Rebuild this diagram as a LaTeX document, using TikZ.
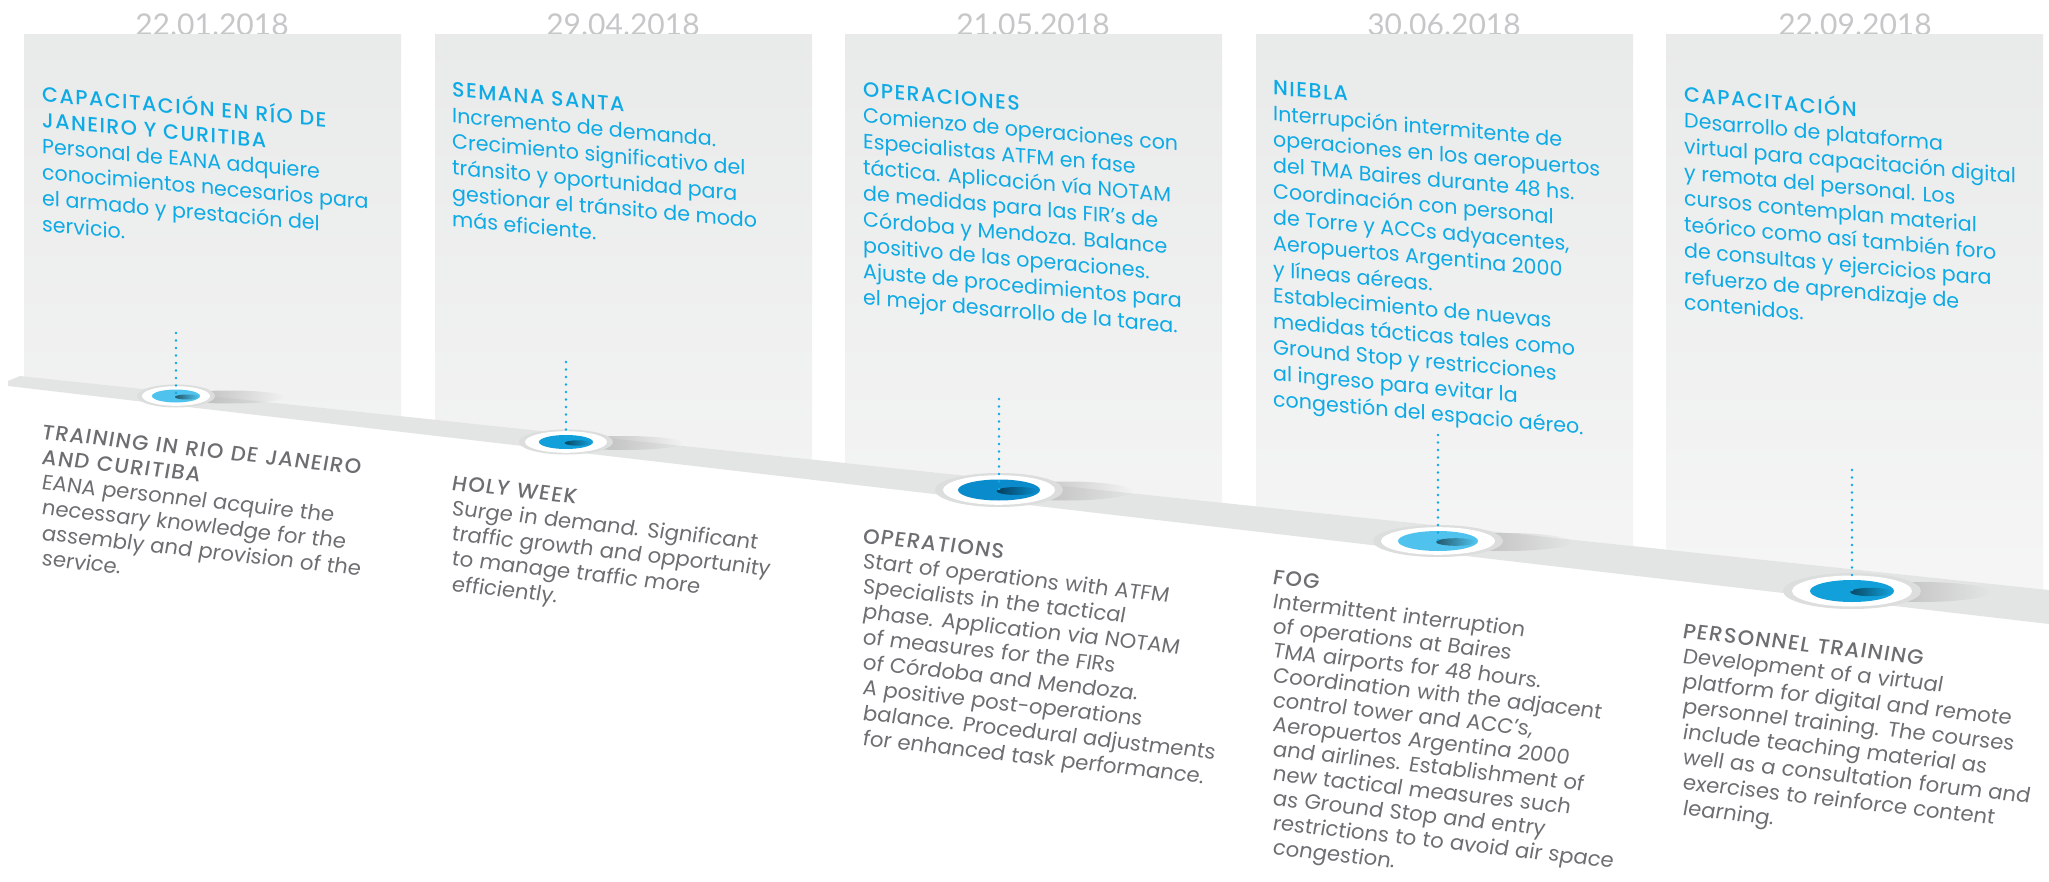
\documentclass[tikz,border=0pt]{standalone}
\usepackage{fontspec}
\setmainfont{Poppins}[BoldFont={Poppins Medium}, BoldItalicFont={Poppins Medium Italic}]
\newfontfamily\datefont{Lato}
\usetikzlibrary{fadings}

\definecolor{eanablue}{HTML}{0EAAE6}
\definecolor{engray}{HTML}{6D6E71}
\definecolor{dategray}{HTML}{C6C7C8}
\definecolor{paneltop}{HTML}{E9EAEA}
\definecolor{panelbot}{HTML}{F6F6F6}
\definecolor{bandgray}{HTML}{E3E4E4}
\definecolor{ringgray}{HTML}{DCDDDD}
\definecolor{dotlight}{HTML}{4FC3EE}
\definecolor{dotmid}{HTML}{12A0DB}
\definecolor{dotdark}{HTML}{0A8BCB}

% wide headings
\newcommand\ttl[2][7]{{\bfseries\addfontfeature{LetterSpace=#1}#2}}

\tikzfading[name=fade right, left color=transparent!0, right color=transparent!100]

\tikzset{
  date/.style={font=\datefont\fontsize{30}{30}\selectfont, text=dategray, anchor=base},
  panel/.style={top color=paneltop, bottom color=panelbot},
  estext/.style={anchor=north west, inner sep=0pt, align=left, text=eanablue,
    yslant=-0.09, font=\fontsize{20.6}{26}\selectfont},
  entext/.style={anchor=north west, inner sep=0pt, align=left, text=engray,
    yslant=-0.112, font=\itshape\fontsize{21}{25.3}\selectfont},
  pinline/.style={eanablue, line width=2.6pt, line cap=round, dash pattern=on 0pt off 7.5pt},
  ringshadow/.style={black!30, path fading=fade right},
}

\begin{document}
\begin{tikzpicture}[x=1pt, y=-1pt]
  \useasboundingbox (0,0) rectangle (2049,882);
  \fill[white] (0,0) rectangle (2049,882);

  % dates, partly hidden behind the panels
  \node[date] (d1) at (212,35.5) {22.01.2018};
  \node[date] (d2) at (623,35.5) {29.04.2018};
  \node[date] (d3) at (1033,35.5) {21.05.2018};
  \node[date] (d4) at (1444,35.5) {30.06.2018};
  \node[date] (d5) at (1855,35.5) {22.09.2018};

  % panels, cut along the top of the band
  \begin{scope}
    \clip (0,0) -- (2049,0) -- (2049,590) -- (0,374) -- cycle;
    \shade[panel] (24,35) rectangle (401,620);
    \shade[panel] (435,35) rectangle (812,620);
    \shade[panel] (845,35) rectangle (1222,620);
    \shade[panel] (1256,35) rectangle (1633,620);
    \shade[panel] (1666,35) rectangle (2043,620);
  \end{scope}

  % band
  \fill[bandgray] (8,381) -- (20,376) -- (2049,590) -- (2049,624) -- (8,386) -- cycle;

  % markers on the band
  \coordinate (m1) at (176,396);
  \coordinate (m2) at (566,442);
  \coordinate (m3) at (999,490);
  \coordinate (m4) at (1438,541);
  \coordinate (m5) at (1852,591);
  \coordinate (p1) at (176,333);
  \coordinate (p2) at (566,362);
  \coordinate (p3) at (999,399);
  \coordinate (p4) at (1438,435);
  \coordinate (p5) at (1852,470);

  \fill[ringshadow] (230,397) ellipse [x radius=54.5, y radius=6.5];
  \fill[ringshadow] (624,443) ellipse [x radius=58.5, y radius=7];
  \fill[ringshadow] (1066,491) ellipse [x radius=67, y radius=9.5];
  \fill[ringshadow] (1505,542) ellipse [x radius=67.5, y radius=9];
  \fill[ringshadow] (1921,592) ellipse [x radius=69.5, y radius=10];

  \fill[ringgray] (m1) ellipse [x radius=39, y radius=11.5];
  \fill[white] (m1) ellipse [x radius=34, y radius=9.8];
  \fill[dotlight] (m1) ellipse [x radius=24, y radius=6.5];
  \shade[left color=black!55!dotlight, right color=dotlight] (187,397) ellipse [x radius=12, y radius=2.5];

  \fill[ringgray] (m2) ellipse [x radius=47, y radius=12.5];
  \fill[white] (m2) ellipse [x radius=41, y radius=10.8];
  \fill[dotmid] (m2) ellipse [x radius=27, y radius=7];
  \shade[left color=black!55!dotmid, right color=dotmid] (578,443) ellipse [x radius=13.5, y radius=2.7];

  \fill[ringgray] (m3) ellipse [x radius=64, y radius=17];
  \fill[white] (m3) ellipse [x radius=56, y radius=14.8];
  \fill[dotdark] (m3) ellipse [x radius=41, y radius=10.5];
  \shade[left color=black!55!dotdark, right color=dotdark] (1017,491) ellipse [x radius=20.5, y radius=4];

  \fill[ringgray] (m4) ellipse [x radius=65, y radius=16];
  \fill[white] (m4) ellipse [x radius=57, y radius=13.8];
  \fill[dotlight] (m4) ellipse [x radius=40, y radius=10];
  \shade[left color=black!55!dotlight, right color=dotlight] (1456,542) ellipse [x radius=20, y radius=3.8];

  \fill[ringgray] (m5) ellipse [x radius=69, y radius=18];
  \fill[white] (m5) ellipse [x radius=60, y radius=15.5];
  \fill[dotmid] (m5) ellipse [x radius=42, y radius=11];
  \shade[left color=black!55!dotmid, right color=dotmid] (1871,592) ellipse [x radius=21, y radius=4.2];

  \draw[pinline] (p1) -- (m1);
  \draw[pinline] (p2) -- (m2);
  \draw[pinline] (p3) -- (m3);
  \draw[pinline] (p4) -- (m4);
  \draw[pinline] (p5) -- (m5);

  % spanish texts in the panels
  \node[estext] (es1) at (42,82) {\ttl{CAPACITACIÓN EN RÍO DE}\\\ttl{JANEIRO Y CURITIBA}\\
    Personal de EANA adquiere\\conocimientos necesarios para\\el armado y prestación del\\servicio.};
  \node[estext] (es2) at (452,82) {\ttl{SEMANA SANTA}\\Incremento de demanda.\\
    Crecimiento significativo del\\tránsito y oportunidad para\\gestionar el tránsito de modo\\más eficiente.};
  \node[estext] (es3) at (863,82) {\ttl{OPERACIONES}\\Comienzo de operaciones con\\
    Especialistas ATFM en fase\\táctica. Aplicación vía NOTAM\\de medidas para las FIR’s de\\
    Córdoba y Mendoza. Balance\\positivo de las operaciones.\\Ajuste de procedimientos para\\
    el mejor desarrollo de la tarea.};
  \node[estext] (es4) at (1273,80) {\ttl{NIEBLA}\\Interrupción intermitente de\\
    operaciones en los aeropuertos\\del TMA Baires durante 48 hs.\\Coordinación con personal\\
    de Torre y ACCs adyacentes,\\Aeropuertos Argentina 2000\\y líneas aéreas.\\
    Establecimiento de nuevas\\medidas tácticas tales como\\Ground Stop y restricciones\\
    al ingreso para evitar la\\congestión del espacio aéreo.};
  \node[estext] (es5) at (1684,82) {\ttl{CAPACITACIÓN}\\Desarrollo de plataforma\\
    virtual para capacitación digital\\y remota del personal. Los\\cursos contemplan material\\
    teórico como así también foro\\de consultas y ejercicios para\\refuerzo de aprendizaje de\\
    contenidos.};

  % english texts below the band
  \node[entext] (en1) at (42,424) {\ttl[6]{TRAINING IN RIO DE JANEIRO}\\\ttl[6]{AND CURITIBA}\\
    EANA personnel acquire the\\necessary knowledge for the\\assembly and provision of the\\service.};
  \node[entext] (en2) at (452,475) {\ttl[6]{HOLY WEEK}\\Surge in demand. Significant\\
    traffic growth and opportunity\\to manage traffic more\\efficiently.};
  \node[entext] (en3) at (863,528) {\ttl[6]{OPERATIONS}\\Start of operations with ATFM\\
    Specialists in the tactical\\phase. Application via NOTAM\\of measures for the FIRs\\
    of Córdoba and Mendoza.\\A positive post-operations\\balance. Procedural adjustments\\
    for enhanced task performance.};
  \node[entext, font=\itshape\fontsize{21}{24.6}\selectfont] (en4) at (1273,569) {\ttl[6]{FOG}\\
    Intermittent interruption\\of operations at Baires\\TMA airports for 48 hours.\\
    Coordination with the adjacent\\control tower and ACC’s,\\Aeropuertos Argentina 2000\\
    and airlines. Establishment of\\new tactical measures such\\as Ground Stop and entry\\
    restrictions to to avoid air space\\congestion.};
  \node[entext] (en5) at (1683,623) {\ttl[6]{PERSONNEL TRAINING}\\Development of a virtual\\
    platform for digital and remote\\personnel training. The courses\\include teaching material as\\
    well as a consultation forum and\\exercises to reinforce content\\learning.};
\end{tikzpicture}
\end{document}
